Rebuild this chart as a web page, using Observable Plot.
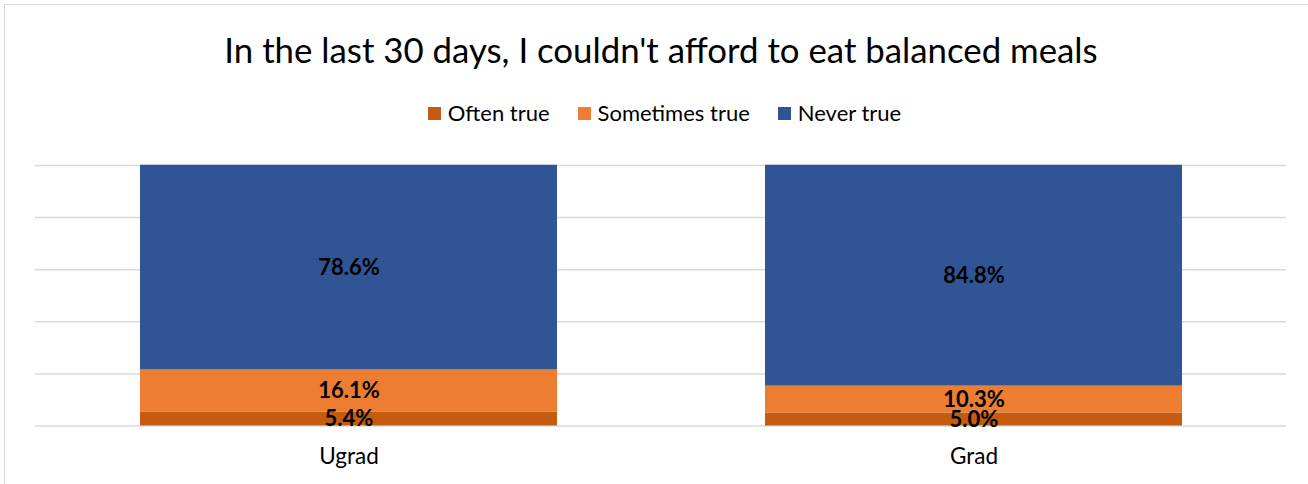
<!DOCTYPE html>
<html>
<head>
<meta charset="utf-8">
<script src="https://cdn.jsdelivr.net/npm/d3@7"></script>
<script src="https://cdn.jsdelivr.net/npm/@observablehq/plot@0.6"></script>
<style>
  html, body { margin: 0; padding: 0; background: #fff; }
  body { width: 1308px; height: 484px; overflow: hidden; position: relative; font-family: Lato, "Open Sans", sans-serif; color: #000; }
  #frame { position: absolute; left: 4px; top: 4px; width: 1500px; height: 700px; border: 1.5px solid #d9d9d9; box-sizing: border-box; }
  #title { position: absolute; top: 29px; left: 14px; width: 1294px; text-align: center; font-size: 34.8px; line-height: 42px; white-space: nowrap; }
  #legend { position: absolute; top: 99px; left: 21px; width: 1287px; display: flex; justify-content: center; font-size: 22px; line-height: 28px; white-space: nowrap; }
  .item { display: flex; align-items: center; margin: 0 14px; }
  .sw { width: 13px; height: 13px; margin-right: 7px; }
  #chart { position: absolute; top: 135px; left: 0; }
</style>
</head>
<body>
<div id="frame"></div>
<div id="title"></div>
<div id="legend"></div>
<div id="chart"></div>
<script>
const titleText = "In the last 30 days, I couldn't afford to eat balanced meals";
const categories = ["Ugrad", "Grad"];
const series = ["Often true", "Sometimes true", "Never true"];
const oftenTrue = [5.4, 5.0];
const sometimesTrue = [16.1, 10.3];
const neverTrue = [78.6, 84.8];
const colors = ["#C55A11", "#ED7D31", "#2F5597"];
const gridTicks = [0, 20, 40, 60, 80, 100];

const seriesValues = [oftenTrue, sometimesTrue, neverTrue];
const data = series.flatMap((s, i) =>
  categories.map((c, j) => ({ category: c, series: s, value: seriesValues[i][j] }))
);

document.getElementById("title").textContent = titleText;
const legend = document.getElementById("legend");
series.forEach((s, i) => {
  const item = document.createElement("div");
  item.className = "item";
  const sw = document.createElement("span");
  sw.className = "sw";
  sw.style.background = colors[i];
  const lab = document.createElement("span");
  lab.textContent = s;
  item.appendChild(sw);
  item.appendChild(lab);
  legend.appendChild(item);
});

const chart = Plot.plot({
  width: 1308,
  height: 349,
  marginTop: 30,
  marginBottom: 58.5,
  marginLeft: 35,
  marginRight: 22,
  style: { fontFamily: "Lato, 'Open Sans', sans-serif", fontSize: "22px", color: "#000", background: "transparent", overflow: "visible" },
  x: { domain: categories, paddingInner: 1 / 3, paddingOuter: 1 / 6, label: null },
  y: { domain: [0, 100], axis: null },
  color: { domain: series, range: colors },
  marks: [
    Plot.ruleY(gridTicks, { stroke: "#d9d9d9", strokeWidth: 1.5 }),
    Plot.barY(data, { x: "category", y: "value", fill: "series", order: series }),
    Plot.text(data, Plot.stackY({
      x: "category", y: "value", z: "series", order: series,
      text: d => d.value.toFixed(1) + "%",
      fontWeight: "bold", fontSize: 22, fill: "#000"
    })),
    Plot.axisX({ tickSize: 0, tickPadding: 22, fontSize: 22.5, fill: "#000", label: null })
  ]
});
document.getElementById("chart").appendChild(chart);
</script>
</body>
</html>
